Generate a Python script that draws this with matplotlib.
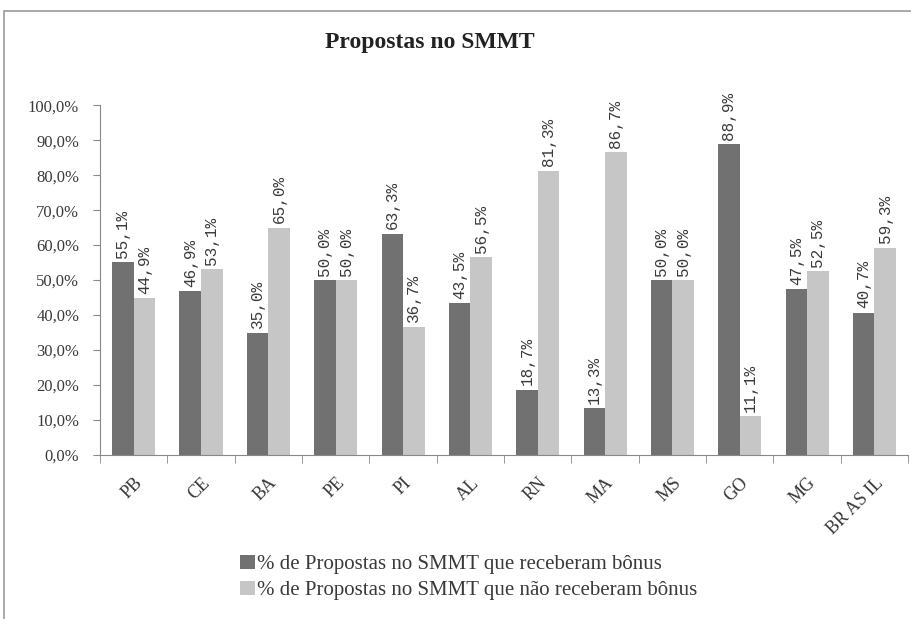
import matplotlib
matplotlib.use("Agg")
import matplotlib.pyplot as plt
import numpy as np
from matplotlib.patches import Rectangle

categories = ["PB", "CE", "BA", "PE", "PI", "AL", "RN", "MA", "MS", "GO", "MG", "BR AS IL"]
com_bonus = [55.1, 46.9, 35.0, 50.0, 63.3, 43.5, 18.7, 13.3, 50.0, 88.9, 47.5, 40.7]
sem_bonus = [44.9, 53.1, 65.0, 50.0, 36.7, 56.5, 81.3, 86.7, 50.0, 11.1, 52.5, 59.3]
label_com = "% de Propostas no SMMT que receberam bônus"
label_sem = "% de Propostas no SMMT que não receberam bônus"
y_ticks = [0, 10, 20, 30, 40, 50, 60, 70, 80, 90, 100]

SERIF = "Liberation Serif"
TXT = "#3a3a3a"
DARK = "#717171"
LIGHT = "#c6c6c6"

fig = plt.figure(figsize=(9.11, 6.19), dpi=100)
ax = fig.add_axes([0.1098, 0.265, 0.887, 0.565])

x = np.arange(len(categories))
w = 0.32
ax.bar(x - w / 2, com_bonus, w, color=DARK, label=label_com)
ax.bar(x + w / 2, sem_bonus, w, color=LIGHT, label=label_sem)

# rotated value labels with white box, just above the bar
for xs, vals in ((x - w / 2, com_bonus), (x + w / 2, sem_bonus)):
    for xi, v in zip(xs, vals):
        ax.annotate(f"{v:.1f}%".replace(".", ","), (xi, v), xytext=(0, 3),
                    textcoords="offset points", rotation=90, ha="center", va="bottom",
                    family="Liberation Mono", fontsize=11.5, color=TXT,
                    bbox=dict(facecolor="white", edgecolor="none", pad=0.6))

ax.set_xlim(-0.5, len(categories) - 0.5)
ax.set_ylim(0, 100)
ax.set_yticks(y_ticks)
ax.set_yticklabels([f"{t:.1f}%".replace(".", ",") for t in y_ticks],
                   family=SERIF, fontsize=12, color=TXT)
ax.tick_params(axis="y", length=5, color="#888888", pad=10)

ax.set_xticks(x)
ax.set_xticklabels(categories, rotation=45, ha="right", rotation_mode="anchor",
                   family=SERIF, fontsize=13, color=TXT)
ax.tick_params(axis="x", which="major", length=0, pad=14)
ax.set_xticks(np.arange(len(categories) + 1) - 0.5, minor=True)
ax.tick_params(axis="x", which="minor", length=6, color="#888888")

for s in ("top", "right"):
    ax.spines[s].set_visible(False)
for s in ("left", "bottom"):
    ax.spines[s].set_color("#888888")

fig.text(0.472, 0.932, "Propostas no SMMT", ha="center", va="center",
         family=SERIF, fontsize=17, fontweight="bold", color="#222222")

ax.legend(loc="upper left", bbox_to_anchor=(0.243, 0.134), bbox_transform=fig.transFigure,
          frameon=False, prop=dict(family=SERIF, size=15), labelcolor=TXT,
          handlelength=0.7, handleheight=0.7, handletextpad=0.1, labelspacing=0.3)

# outer frame of the original figure
fig.patches.append(Rectangle((0.004, -0.1), 1.2, 1.082, transform=fig.transFigure,
                             fill=False, edgecolor="#999999", linewidth=1.2))

fig.savefig("out.png", dpi=100)
